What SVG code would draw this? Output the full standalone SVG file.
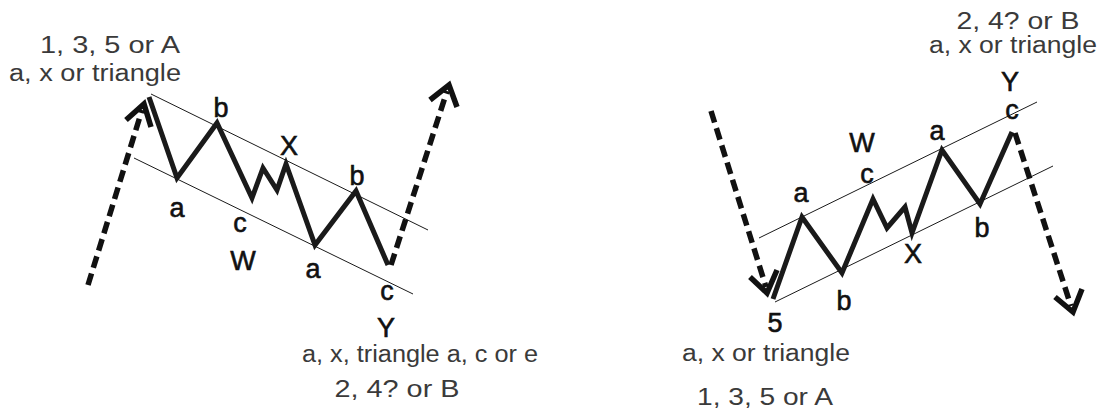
<svg xmlns="http://www.w3.org/2000/svg" width="1105" height="412" viewBox="0 0 1105 412">
<style>
.bg{fill:#ffffff}
.wave{fill:none;stroke:#1a1a1a;stroke-width:5;stroke-linejoin:miter;stroke-miterlimit:6}
.chan{fill:none;stroke:#1a1a1a;stroke-width:1}
.dash{fill:none;stroke:#111;stroke-width:5.5;stroke-dasharray:12 6}
.head{fill:none;stroke:#111;stroke-width:5.5;stroke-linejoin:miter;stroke-miterlimit:6}
.lbl{font-family:"Liberation Sans",Arial,sans-serif;font-size:27px;fill:#111;stroke:#111;stroke-width:0.6;text-anchor:middle}
.note{font-family:"Liberation Sans",Arial,sans-serif;font-size:23px;fill:#3a3a3a;text-anchor:middle}
</style>
<rect class="bg" x="0" y="0" width="1105" height="412"/>
<g id="connectors">
  <!-- left pattern -->
  <line class="chan" x1="151" y1="94" x2="428" y2="230"/>
  <line class="chan" x1="134" y1="158" x2="413" y2="294"/>
  <polyline class="wave" points="149,97 177,178 217,123 252,198 263,168 277,190 286,164 315,245 356,191 388,265"/>
  <line class="dash" x1="88" y1="285" x2="142" y2="110"/>
  <polyline class="head" points="126,120 144,104 151,127"/>
  <line class="dash" x1="391" y1="265" x2="447" y2="91"/>
  <polyline class="head" points="430,100 449,85 457,107"/>
  <!-- right pattern -->
  <line class="chan" x1="759" y1="238" x2="1037" y2="102"/>
  <line class="chan" x1="775" y1="302" x2="1053" y2="166"/>
  <polyline class="wave" points="773,299 802,217 842,273 873,199 887,228 905,207 912,233 942,150 980,204 1012,132"/>
  <line class="dash" x1="711" y1="111" x2="766" y2="287"/>
  <polyline class="head" points="750,277 767,293 777,270"/>
  <line class="dash" x1="1015" y1="133" x2="1071" y2="306"/>
  <polyline class="head" points="1055,297 1073,312 1082,289"/>
</g>
<g id="left-top-note">
  <text class="note" x="110" y="53" textLength="140" lengthAdjust="spacingAndGlyphs">1, 3, 5 or A</text>
  <text class="note" x="95" y="81" textLength="172" lengthAdjust="spacingAndGlyphs">a, x or triangle</text>
</g>
<g id="left-bottom-note">
  <text class="note" x="420" y="362" textLength="236" lengthAdjust="spacingAndGlyphs">a, x, triangle a, c or e</text>
  <text class="note" x="397" y="397" textLength="125" lengthAdjust="spacingAndGlyphs">2, 4? or B</text>
</g>
<g id="left-labels">
  <text id="l-a1" class="lbl" x="177" y="217">a</text>
  <text id="l-b1" class="lbl" x="221" y="117">b</text>
  <text id="l-c1" class="lbl" x="240" y="232">c</text>
  <text id="l-W" class="lbl" x="243" y="270">W</text>
  <text id="l-X" class="lbl" x="289" y="155">X</text>
  <text id="l-a2" class="lbl" x="313" y="278">a</text>
  <text id="l-b2" class="lbl" x="357" y="185">b</text>
  <text id="l-c2" class="lbl" x="387" y="300">c</text>
  <text id="l-Y" class="lbl" x="386" y="337">Y</text>
</g>
<g id="right-top-note">
  <text class="note" x="1018" y="29" textLength="123" lengthAdjust="spacingAndGlyphs">2, 4? or B</text>
  <text class="note" x="1013" y="53" textLength="168" lengthAdjust="spacingAndGlyphs">a, x or triangle</text>
</g>
<g id="right-bottom-note">
  <text class="note" x="766" y="361" textLength="168" lengthAdjust="spacingAndGlyphs">a, x or triangle</text>
  <text class="note" x="765" y="405" textLength="136" lengthAdjust="spacingAndGlyphs">1, 3, 5 or A</text>
</g>
<g id="right-labels">
  <text id="r-5" class="lbl" x="775" y="332">5</text>
  <text id="r-a1" class="lbl" x="801" y="202">a</text>
  <text id="r-b1" class="lbl" x="844" y="310">b</text>
  <text id="r-c1" class="lbl" x="867" y="183">c</text>
  <text id="r-W" class="lbl" x="862" y="152">W</text>
  <text id="r-X" class="lbl" x="913" y="263">X</text>
  <text id="r-a2" class="lbl" x="937" y="140">a</text>
  <text id="r-b2" class="lbl" x="982" y="237">b</text>
  <text id="r-c2" class="lbl" x="1012" y="119">c</text>
  <text id="r-Y" class="lbl" x="1010" y="91">Y</text>
</g>
</svg>
